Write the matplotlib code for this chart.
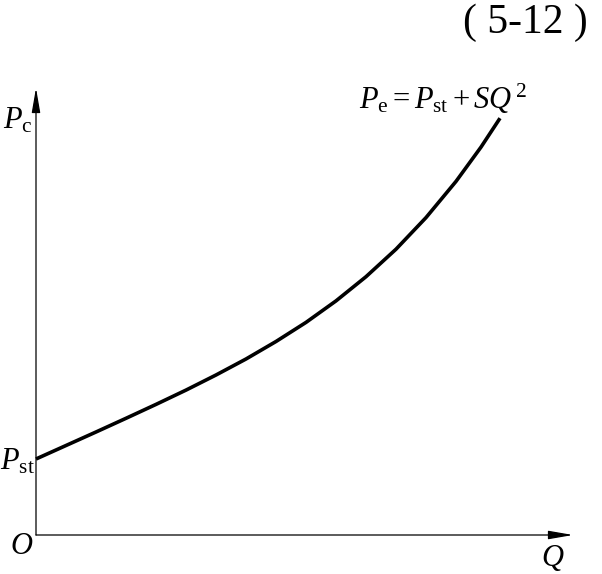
import matplotlib
matplotlib.use("Agg")
import matplotlib.pyplot as plt
from matplotlib import font_manager

plt.rcParams['font.family'] = 'serif'
plt.rcParams['font.serif'] = ['Liberation Serif', 'DejaVu Serif']
plt.rcParams['mathtext.fontset'] = 'custom'
plt.rcParams['mathtext.rm'] = 'Liberation Serif'
plt.rcParams['mathtext.it'] = 'Liberation Serif:italic'

serif_path = font_manager.findfont(font_manager.FontProperties(family='Liberation Serif'))
serif_fp = font_manager.FontProperties(fname=serif_path, size=30)

# Curve samples (arbitrary units)
Q = [0, 30, 60, 90, 120, 150, 180, 210, 240, 270, 300, 330, 360, 390, 420, 445, 464]
Pe = [76, 89.5, 103, 116.7, 130.6, 144.9, 160, 176, 193.5, 212.6, 234.1, 258.3,
      285.8, 317.4, 353.6, 387.9, 416.8]

x_axis_end = 537
y_axis_end = 447

fig = plt.figure(figsize=(6.02, 5.74), dpi=100)
ax = fig.add_axes([0, 0, 1, 1])
ax.set_xlim(-36, 566)
ax.set_ylim(-39, 535)
ax.axis('off')

ax.plot(Q, Pe, color='black', lw=2.6, solid_capstyle='butt', solid_joinstyle='round')

arrow = dict(arrowstyle='-|>,head_length=1.5,head_width=0.26', color='black', lw=0.9,
             shrinkA=0, shrinkB=0)
ax.annotate('', xy=(x_axis_end, 0), xytext=(0, 0), arrowprops=arrow)
ax.annotate('', xy=(0, y_axis_end), xytext=(0, 0), arrowprops=arrow)

fs = 22
ax.text(-14, -12, r'$O$', fontsize=fs, ha='center', va='center')
ax.text(517, -23, r'$Q$', fontsize=fs, ha='center', va='center')
ax.text(-18, 414, r'$P_{\mathrm{c}}$', fontsize=fs, ha='center', va='center')
ax.text(-19, 73, r'$P_{\mathrm{st}}$', fontsize=fs, ha='center', va='center')
ax.text(323, 436, r'$P_{\mathrm{e}} = P_{\mathrm{st}} + SQ^{\,2}$', fontsize=fs,
        ha='left', va='center')
ax.text(489, 512, '( 5-12 )', ha='center', va='center', fontproperties=serif_fp)

fig.savefig('out.png', dpi=100)
